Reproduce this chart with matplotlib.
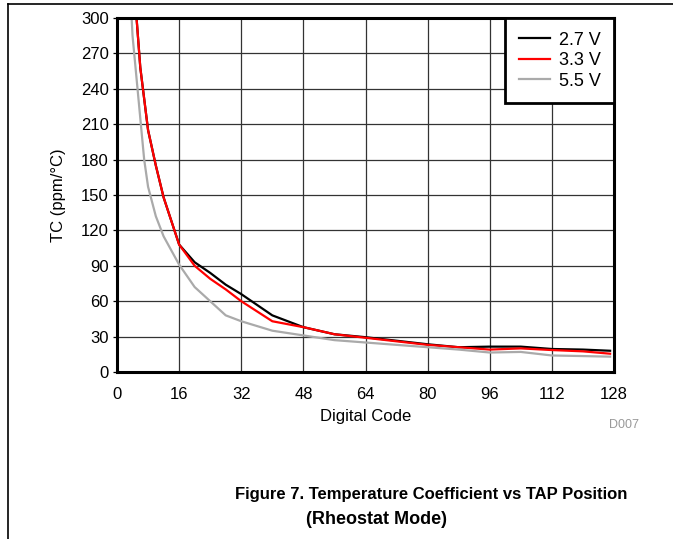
import matplotlib
matplotlib.use("Agg")
import matplotlib.pyplot as plt
from matplotlib.lines import Line2D

plt.rcParams['font.family'] = ['Liberation Sans', 'DejaVu Sans']

# Data
codes_27 = [4, 6, 8, 10, 12, 16, 20, 24, 28, 32, 40, 48, 56, 64, 72, 80, 88, 96, 104, 112, 120, 127]
tc_27 = [345, 258, 205, 175, 148, 108, 93, 84, 74, 66, 48, 38, 32, 29.5, 26.5, 23.5, 21, 21.5, 21.5, 19.5, 19, 18]

codes_33 = [4, 6, 8, 10, 12, 16, 20, 24, 28, 32, 40, 48, 56, 64, 72, 80, 88, 96, 104, 112, 120, 127]
tc_33 = [345, 258, 205, 175, 148, 108, 90, 79, 70, 60, 43, 38, 32, 29, 26, 23, 21, 19, 20, 18.6, 17.5, 15.5]

codes_55 = [3, 4, 5, 6, 7, 8, 10, 12, 16, 20, 24, 28, 32, 40, 48, 56, 64, 72, 80, 88, 96, 104, 112, 120, 127]
tc_55 = [350, 285, 250, 215, 180, 157, 132, 115, 91, 72, 60, 48, 43, 35, 31, 27, 25, 23, 21, 19, 16.5, 17, 14, 13.5, 13]

labels = ['2.7 V', '3.3 V', '5.5 V']
colors = ['black', '#ff0000', '#aaaaaa']
xticks = list(range(0, 129, 16))
yticks = list(range(0, 301, 30))

fig = plt.figure(figsize=(6.73, 5.39), dpi=100)
ax = fig.add_axes([117/673, 1 - 372/539, (614-117)/673, (372-18)/539])

for xs, ys, lab, c in zip([codes_27, codes_33, codes_55], [tc_27, tc_33, tc_55], labels, colors):
    ax.plot(xs, ys, color=c, lw=1.6, label=lab)

ax.set_xlim(0, 128)
ax.set_ylim(0, 300)
ax.set_xticks(xticks)
ax.set_yticks(yticks)
ax.grid(True, color='#333333', lw=0.9)
ax.set_axisbelow(True)
for s in ax.spines.values():
    s.set_linewidth(2.2)
ax.tick_params(axis='x', length=0, labelsize=12, pad=11)
ax.tick_params(axis='y', length=3, width=0.9, labelsize=12, pad=3)
ax.set_xlabel('Digital Code', fontsize=12, labelpad=5)
ax.set_ylabel('TC (ppm/°C)', fontsize=12, labelpad=11)

leg = ax.legend(loc='upper right', bbox_to_anchor=(1, 1), borderaxespad=0,
                fontsize=13, fancybox=False, framealpha=1, edgecolor='black',
                handlelength=1.75, handletextpad=0.45,
                labelspacing=0.2, borderpad=0.75)
leg.get_frame().set_linewidth(2.0)

fig.text(624/673, 1 - 425/539, 'D007', color='#999999', fontsize=9, ha='center', va='center')
fig.text(431/673, 1 - 494/539, 'Figure 7. Temperature Coefficient vs TAP Position',
         fontsize=12, fontweight='bold', ha='center', va='center')
fig.text(376/673, 1 - 520/539, '(Rheostat Mode)',
         fontsize=13, fontweight='bold', ha='center', va='center')

fig.add_artist(Line2D([8/673, 1], [1 - 4/539, 1 - 4/539], color='black', lw=1.2, transform=fig.transFigure))
fig.add_artist(Line2D([8/673, 8/673], [1 - 4/539, 0], color='black', lw=1.2, transform=fig.transFigure))

fig.savefig('out.png', dpi=100)
